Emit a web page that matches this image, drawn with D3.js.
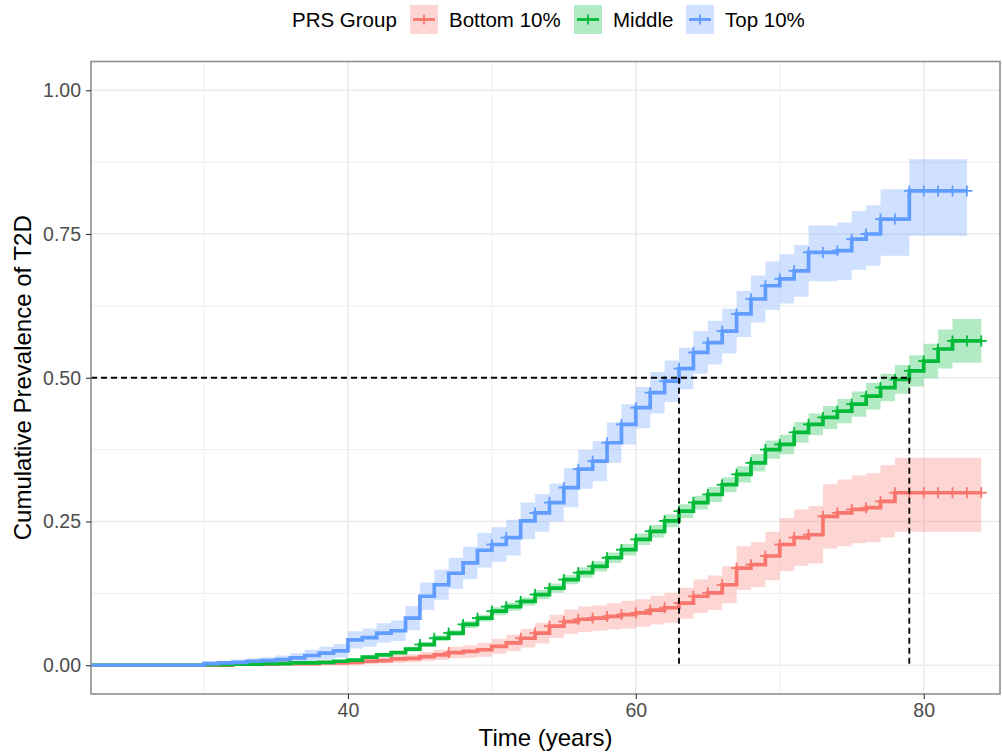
<!DOCTYPE html>
<html>
<head>
<meta charset="utf-8">
<script src="https://cdn.jsdelivr.net/npm/d3@7"></script>
<style>
  body { margin: 0; background: #fff; }
  text { font-family: "Liberation Sans", Arial, sans-serif; }
</style>
</head>
<body>
<svg id="chart" width="1002" height="753"></svg>
<script>
// ---- data ----
var groupNames = ["Bottom 10%", "Middle", "Top 10%"];
var groupColors = ["#F8766D", "#00BA38", "#619CFF"];

var bottomTime = [32, 35, 38, 40, 41, 42, 43, 44, 45, 46, 47, 48, 49, 50, 51, 52, 53, 54, 55, 56, 57, 58, 59, 60, 61, 62, 63, 64, 65, 66, 67, 68, 69, 70, 71, 72, 73, 74, 75, 76, 77, 78];
var bottomEst  = [.002, .003, .004, .005, .007, .008, .011, .012, .015, .018, .022, .024, .027, .033, .039, .047, .056, .068, .076, .080, .082, .085, .088, .091, .096, .100, .108, .120, .126, .140, .169, .175, .190, .210, .222, .227, .259, .265, .271, .274, .285, .300];
var bottomLo   = [.000, .000, .001, .001, .002, .003, .004, .005, .007, .009, .012, .013, .015, .020, .025, .031, .038, .048, .055, .058, .060, .062, .064, .067, .071, .074, .081, .091, .096, .108, .131, .136, .148, .164, .173, .177, .203, .207, .212, .214, .222, .232];
var bottomHi   = [.005, .007, .009, .010, .012, .014, .018, .019, .023, .027, .032, .035, .039, .046, .053, .063, .074, .088, .097, .102, .104, .108, .112, .115, .121, .126, .135, .149, .156, .172, .207, .214, .232, .256, .271, .277, .315, .323, .330, .334, .348, .361];
var bottomEnd = 84;
var bottomCensor = [47, 52, 53, 54, 55, 56, 57, 58, 59, 60, 61, 62, 63, 64, 65, 66, 67, 68, 69, 70, 71, 72, 73, 74, 75, 76, 77, 78, 79, 80, 81, 82, 83, 84];

var middleTime = [30, 32, 34, 36, 38, 39, 40, 41, 42, 43, 44, 45, 46, 47, 48, 49, 50, 51, 52, 53, 54, 55, 56, 57, 58, 59, 60, 61, 62, 63, 64, 65, 66, 67, 68, 69, 70, 71, 72, 73, 74, 75, 76, 77, 78, 79, 80, 81, 82];
var middleEst  = [.001, .002, .003, .004, .005, .007, .009, .014, .018, .022, .028, .036, .047, .056, .071, .082, .094, .102, .111, .123, .134, .149, .161, .172, .187, .201, .219, .233, .251, .268, .283, .297, .314, .332, .352, .375, .384, .405, .419, .431, .442, .454, .468, .483, .497, .512, .529, .550, .564];
var middleLo   = [.000, .001, .002, .003, .004, .005, .007, .011, .015, .019, .024, .032, .042, .051, .065, .076, .087, .095, .104, .115, .126, .141, .152, .163, .178, .191, .209, .222, .240, .256, .271, .284, .301, .318, .337, .359, .367, .387, .400, .411, .421, .432, .445, .459, .472, .485, .499, .516, .526];
var middleHi   = [.002, .003, .004, .005, .007, .009, .011, .017, .021, .025, .032, .040, .052, .061, .077, .088, .101, .109, .118, .131, .142, .157, .170, .181, .196, .211, .229, .244, .262, .280, .295, .310, .327, .346, .367, .391, .401, .423, .438, .451, .463, .476, .491, .507, .522, .539, .559, .584, .602];
var middleEnd = 84;
var middleCensor = [45, 46, 47, 48, 49, 50, 51, 52, 53, 54, 55, 56, 57, 58, 59, 60, 61, 62, 63, 64, 65, 66, 67, 68, 69, 70, 71, 72, 73, 74, 75, 76, 77, 78, 79, 80, 81, 82, 83, 84];

var topTime = [30, 31, 32, 33, 34, 35, 36, 37, 38, 39, 40, 41, 42, 43, 44, 45, 46, 47, 48, 49, 50, 51, 52, 53, 54, 55, 56, 57, 58, 59, 60, 61, 62, 63, 64, 65, 66, 67, 68, 69, 70, 71, 72, 74, 75, 76, 77, 79];
var topEst  = [.003, .004, .005, .007, .008, .010, .013, .017, .021, .025, .044, .048, .056, .060, .082, .120, .140, .160, .178, .200, .210, .222, .251, .265, .283, .309, .341, .355, .387, .419, .448, .474, .494, .516, .544, .561, .581, .611, .637, .660, .672, .686, .718, .721, .741, .750, .776, .825];
var topLo   = [.000, .000, .001, .002, .002, .003, .005, .007, .010, .013, .029, .032, .039, .042, .061, .096, .114, .133, .150, .170, .180, .191, .219, .232, .250, .275, .307, .320, .352, .384, .412, .438, .458, .480, .507, .523, .542, .571, .596, .618, .629, .641, .668, .670, .688, .695, .712, .747];
var topHi   = [.007, .008, .010, .012, .014, .017, .021, .027, .032, .037, .059, .064, .073, .078, .103, .144, .166, .187, .206, .230, .240, .253, .283, .298, .316, .343, .375, .390, .422, .454, .484, .510, .530, .552, .581, .599, .620, .651, .678, .702, .715, .731, .765, .770, .790, .800, .828, .880];
var topEnd = 83;
var topCensor = [50, 51, 53, 54, 55, 56, 57, 58, 59, 60, 61, 62, 63, 64, 65, 66, 67, 68, 69, 70, 71, 72, 73, 74, 75, 76, 77, 78, 79, 80, 81, 82, 83];

var xTicks = [40, 60, 80];
var xMinor = [30, 50, 70];
var yTicks = [0, 0.25, 0.5, 0.75, 1];
var yMinor = [0.125, 0.375, 0.625, 0.875];
var medianTimes = [63, 79];

// ---- layout ----
var panel = {left: 91, right: 1000, top: 61.5, bottom: 694};
var svg = d3.select("#chart");

var x = d3.scaleLinear().domain([22.15, 85.3]).range([panel.left, panel.right]);
var y = d3.scaleLinear().domain([-0.05, 1.05]).range([panel.bottom, panel.top]);

var series = [
  {name: groupNames[0], color: groupColors[0], time: bottomTime, est: bottomEst, lo: bottomLo, hi: bottomHi, end: bottomEnd, censor: bottomCensor},
  {name: groupNames[1], color: groupColors[1], time: middleTime, est: middleEst, lo: middleLo, hi: middleHi, end: middleEnd, censor: middleCensor},
  {name: groupNames[2], color: groupColors[2], time: topTime, est: topEst, lo: topLo, hi: topHi, end: topEnd, censor: topCensor}
];

series.forEach(function(s) {
  var pts = [{t: x.domain()[0], e: 0, lo: 0, hi: 0}];
  s.time.forEach(function(t, i) {
    pts.push({t: t, e: s.est[i], lo: s.lo[i], hi: s.hi[i]});
  });
  var last = pts[pts.length - 1];
  pts.push({t: s.end, e: last.e, lo: last.lo, hi: last.hi});
  s.points = pts;
});

svg.append("defs").append("clipPath").attr("id", "clip")
  .append("rect")
  .attr("x", panel.left).attr("y", panel.top)
  .attr("width", panel.right - panel.left).attr("height", panel.bottom - panel.top);

// grid
var grid = svg.append("g");
grid.selectAll("line.xminor").data(xMinor).enter().append("line")
  .attr("x1", function(d) { return x(d); }).attr("x2", function(d) { return x(d); })
  .attr("y1", panel.top).attr("y2", panel.bottom)
  .attr("stroke", "#ebebeb").attr("stroke-width", 0.8);
grid.selectAll("line.yminor").data(yMinor).enter().append("line")
  .attr("y1", function(d) { return y(d); }).attr("y2", function(d) { return y(d); })
  .attr("x1", panel.left).attr("x2", panel.right)
  .attr("stroke", "#ebebeb").attr("stroke-width", 0.8);
grid.selectAll("line.xmajor").data(xTicks).enter().append("line")
  .attr("x1", function(d) { return x(d); }).attr("x2", function(d) { return x(d); })
  .attr("y1", panel.top).attr("y2", panel.bottom)
  .attr("stroke", "#ebebeb").attr("stroke-width", 1.6);
grid.selectAll("line.ymajor").data(yTicks).enter().append("line")
  .attr("y1", function(d) { return y(d); }).attr("y2", function(d) { return y(d); })
  .attr("x1", panel.left).attr("x2", panel.right)
  .attr("stroke", "#ebebeb").attr("stroke-width", 1.6);

var plot = svg.append("g").attr("clip-path", "url(#clip)");

var area = d3.area().curve(d3.curveStepAfter)
  .x(function(d) { return x(d.t); })
  .y0(function(d) { return y(d.lo); })
  .y1(function(d) { return y(d.hi); });

var line = d3.line().curve(d3.curveStepAfter)
  .x(function(d) { return x(d.t); })
  .y(function(d) { return y(d.e); });

series.forEach(function(s) {
  plot.append("path").datum(s.points)
    .attr("fill", s.color).attr("fill-opacity", 0.3)
    .attr("stroke", "none")
    .attr("d", area);
});

function valueAt(s, t) {
  var v = 0;
  s.time.forEach(function(tt, i) { if (tt <= t) v = s.est[i]; });
  return v;
}

series.forEach(function(s) {
  plot.append("path").datum(s.points)
    .attr("fill", "none")
    .attr("stroke", s.color)
    .attr("stroke-width", 3.7)
    .attr("d", line);
  s.censor.forEach(function(t) {
    var cx = x(t), cy = y(valueAt(s, t));
    plot.append("line")
      .attr("x1", cx).attr("x2", cx).attr("y1", cy - 5.5).attr("y2", cy + 5.5)
      .attr("stroke", s.color).attr("stroke-width", 1.8);
    plot.append("line")
      .attr("x1", cx - 5.5).attr("x2", cx + 5.5).attr("y1", cy).attr("y2", cy)
      .attr("stroke", s.color).attr("stroke-width", 1.8);
  });
});

// median reference lines
var dash = svg.append("g").attr("stroke", "#000").attr("stroke-width", 1.8)
  .attr("stroke-dasharray", "6,4").attr("fill", "none");
dash.append("line")
  .attr("x1", panel.left).attr("x2", x(d3.max(medianTimes)))
  .attr("y1", y(0.5)).attr("y2", y(0.5));
medianTimes.forEach(function(t) {
  dash.append("line")
    .attr("x1", x(t)).attr("x2", x(t))
    .attr("y1", y(0.5)).attr("y2", y(0));
});

// panel border
svg.append("rect")
  .attr("x", panel.left).attr("y", panel.top)
  .attr("width", panel.right - panel.left).attr("height", panel.bottom - panel.top)
  .attr("fill", "none").attr("stroke", "#8f8f8f").attr("stroke-width", 1.6);

// axes
var yAxis = svg.append("g")
  .attr("transform", "translate(" + panel.left + ",0)")
  .call(d3.axisLeft(y).tickValues(yTicks).tickFormat(d3.format(".2f")).tickSize(5).tickPadding(5));
var xAxis = svg.append("g")
  .attr("transform", "translate(0," + panel.bottom + ")")
  .call(d3.axisBottom(x).tickValues(xTicks).tickSize(5).tickPadding(4));
[xAxis, yAxis].forEach(function(a) {
  a.select(".domain").remove();
  a.selectAll(".tick line").attr("stroke", "#333").attr("stroke-width", 1.1);
  a.selectAll(".tick text")
    .attr("fill", "#4d4d4d")
    .style("font-size", "19.5px")
    .style("font-family", "'Liberation Sans', Arial, sans-serif");
});

svg.append("text")
  .attr("x", (panel.left + panel.right) / 2).attr("y", 746)
  .attr("text-anchor", "middle")
  .style("font-size", "24px").attr("fill", "#000")
  .text("Time (years)");

svg.append("text")
  .attr("transform", "translate(31," + (panel.top + panel.bottom) / 2 + ") rotate(-90)")
  .attr("text-anchor", "middle")
  .style("font-size", "24px").attr("fill", "#000")
  .text("Cumulative Prevalence of T2D");

// legend
var legend = svg.append("g").attr("class", "legend");
legend.append("text")
  .attr("x", 292).attr("y", 27)
  .style("font-size", "20.5px").attr("fill", "#000")
  .text("PRS Group");
var keyX = [410, 574, 686];
series.forEach(function(s, i) {
  var k = legend.append("g").attr("transform", "translate(" + keyX[i] + ",5)");
  k.append("rect").attr("width", 28).attr("height", 29)
    .attr("fill", s.color).attr("fill-opacity", 0.3);
  k.append("line").attr("x1", 3).attr("x2", 25).attr("y1", 14.5).attr("y2", 14.5)
    .attr("stroke", s.color).attr("stroke-width", 2.8);
  k.append("line").attr("x1", 14).attr("x2", 14).attr("y1", 9.5).attr("y2", 19.5)
    .attr("stroke", s.color).attr("stroke-width", 1.8);
  k.append("text").attr("x", 39).attr("y", 22)
    .style("font-size", "20.5px").attr("fill", "#000")
    .text(s.name);
});
</script>
</body>
</html>
